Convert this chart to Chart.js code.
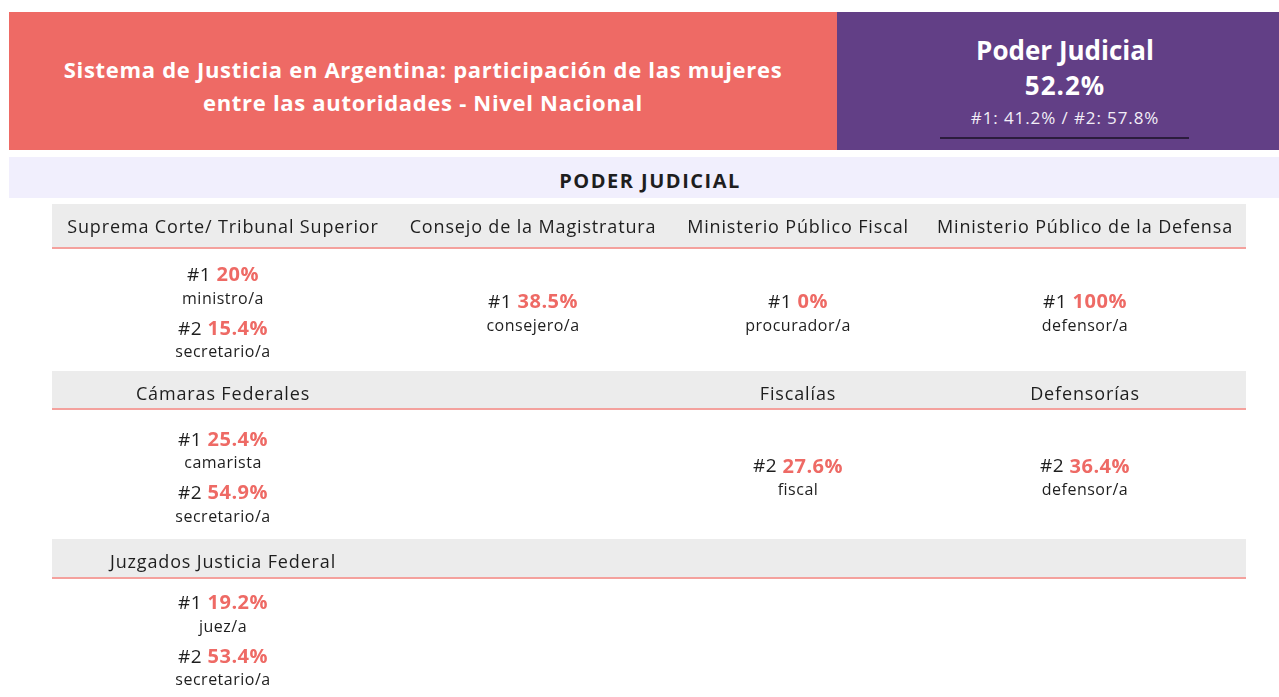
<!DOCTYPE html>
<html>
<head>
<meta charset="utf-8">
<script src="https://cdn.jsdelivr.net/npm/chart.js"></script>
<style>
  body { margin: 0; background: #fff; font-family: "Open Sans", sans-serif; width: 1279px; height: 697px; overflow: hidden; position: relative; }
  #grafico { position: absolute; left: 0; top: 0; }
  .titulo { position: absolute; left: 9px; top: 12px; width: 828px; height: 129px; padding-top: 9px; background: #ee6a65; color: #fff;
    font-weight: 700; font-size: 22px; letter-spacing: 0.7px; line-height: 33px; display: flex; align-items: center; justify-content: center; text-align: center; }
  .resumen { position: absolute; left: 837px; top: 12px; width: 456px; height: 138px; background: #623f86; color: #fff; text-align: center; }
  .resumen .nombre { position: absolute; left: 0; right: 0; top: 21px; font-size: 26px; font-weight: 700; line-height: 34px; }
  .resumen .total { position: absolute; left: 0; right: 0; top: 56px; font-size: 26px; font-weight: 700; letter-spacing: 1px; line-height: 34px; }
  .resumen .niveles { position: absolute; left: 0; right: 0; top: 94px; font-size: 17px; letter-spacing: 0.9px; line-height: 24px; color: #f2eef7; }
  .resumen .linea { position: absolute; left: 103px; width: 249px; top: 125px; height: 2px; background: #2b1c3d; }
  .seccion { position: absolute; left: 9px; top: 157px; width: 1282px; height: 35px; padding-top: 6px; background: #f1effd; color: #1e1e1e;
    font-weight: 700; font-size: 20px; letter-spacing: 1.5px; line-height: 35px; text-align: center; }
</style>
</head>
<body>
<canvas id="grafico" width="1279" height="697"></canvas>

<div class="titulo">Sistema de Justicia en Argentina: participación de las mujeres<br>entre las autoridades - Nivel Nacional</div>
<div class="resumen">
  <div class="nombre">Poder Judicial</div>
  <div class="total" id="total"></div>
  <div class="niveles" id="niveles"></div>
  <div class="linea"></div>
</div>
<div class="seccion">PODER JUDICIAL</div>

<script>
// datos
const totalJudicial = 52.2;
const totalNivel1 = 41.2;
const totalNivel2 = 57.8;

const encabezados = [
  ["Suprema Corte/ Tribunal Superior", "Consejo de la Magistratura", "Ministerio Público Fiscal", "Ministerio Público de la Defensa"],
  ["Cámaras Federales", "", "Fiscalías", "Defensorías"],
  ["Juzgados Justicia Federal", "", "", ""]
];
const nivel1 = [[20, 38.5, 0, 100], [25.4, null, null, null], [19.2, null, null, null]];
const cargos1 = [["ministro/a", "consejero/a", "procurador/a", "defensor/a"], ["camarista", "", "", ""], ["juez/a", "", "", ""]];
const nivel2 = [[15.4, null, null, null], [54.9, null, 27.6, 36.4], [53.4, null, null, null]];
const cargos2 = [["secretario/a", "", "", ""], ["secretario/a", "", "fiscal", "defensor/a"], ["secretario/a", "", "", ""]];

// layout
const anchos = [342, 278, 252, 322];
const bandaArriba = [204, 371, 539];
const bandaAbajo = [248, 409, 578];
const cuerpoAbajo = [371, 539, 697];
const coral = "#ee6a65";
const fuente = "'Open Sans', sans-serif";

document.getElementById("total").textContent = totalJudicial + "%";
document.getElementById("niveles").textContent = "#1: " + totalNivel1 + "% / #2: " + totalNivel2 + "%";

const centroCol = (c) => {
  let s = 0;
  for (let i = 0; i < c; i++) s += anchos[i];
  return s + anchos[c] / 2;
};

const puntos = [[], []];
encabezados.forEach((fila, s) => {
  fila.forEach((h, c) => {
    const items = [];
    if (nivel1[s][c] != null) items.push([0, nivel1[s][c], cargos1[s][c]]);
    if (nivel2[s][c] != null) items.push([1, nivel2[s][c], cargos2[s][c]]);
    const ancla = (bandaAbajo[s] + cuerpoAbajo[s]) / 2 - 7;
    items.forEach((it, k) => {
      puntos[it[0]].push({ x: centroCol(c), y: ancla + (k - (items.length - 1) / 2) * 53.5, v: it[1], cargo: it[2] });
    });
  });
});

const tablaPlugin = {
  id: "tabla",
  beforeDatasetsDraw(chart) {
    const { ctx, scales: { x, y } } = chart;
    ctx.save();
    encabezados.forEach((fila, s) => {
      const top = y.getPixelForValue(bandaArriba[s]);
      const bot = y.getPixelForValue(bandaAbajo[s]);
      ctx.fillStyle = "#ececec";
      ctx.fillRect(x.left, top, x.right - x.left, bot - top);
      ctx.fillStyle = "#f4a19d";
      ctx.fillRect(x.left, bot - 1, x.right - x.left, 2);
      ctx.fillStyle = "#1e1e1e";
      ctx.font = "18px " + fuente;
      ctx.letterSpacing = "0.85px";
      ctx.textAlign = "center";
      ctx.textBaseline = "middle";
      fila.forEach((h, c) => {
        if (h) ctx.fillText(h, x.getPixelForValue(centroCol(c)), top + 24);
      });
    });
    ctx.restore();
  },
  afterDatasetsDraw(chart) {
    const { ctx } = chart;
    ctx.save();
    ctx.textBaseline = "middle";
    ctx.letterSpacing = "0.5px";
    chart.data.datasets.forEach((ds, d) => {
      const meta = chart.getDatasetMeta(d);
      meta.data.forEach((el, i) => {
        const p = ds.data[i];
        const pre = "#" + (d + 1) + " ";
        const val = p.v + "%";
        ctx.font = "19px " + fuente;
        const w1 = ctx.measureText(pre).width;
        ctx.font = "bold 20px " + fuente;
        const w2 = ctx.measureText(val).width;
        const x0 = el.x - (w1 + w2) / 2;
        ctx.textAlign = "left";
        ctx.fillStyle = "#1e1e1e";
        ctx.font = "19px " + fuente;
        ctx.fillText(pre, x0, el.y);
        ctx.fillStyle = coral;
        ctx.font = "bold 20px " + fuente;
        ctx.fillText(val, x0 + w1, el.y);
        ctx.textAlign = "center";
        ctx.fillStyle = "#1e1e1e";
        ctx.font = "16px " + fuente;
        ctx.fillText(p.cargo, el.x, el.y + 23.5);
      });
    });
    ctx.restore();
  }
};

new Chart(document.getElementById("grafico"), {
  type: "scatter",
  data: {
    datasets: [
      { label: "#1", data: puntos[0], pointRadius: 0, clip: false },
      { label: "#2", data: puntos[1], pointRadius: 0, clip: false }
    ]
  },
  options: {
    responsive: false,
    animation: false,
    layout: { padding: { left: 52, right: 33, top: 204, bottom: 0 } },
    plugins: { legend: { display: false }, tooltip: { enabled: false } },
    scales: {
      x: { type: "linear", display: false, min: 0, max: 1194 },
      y: { type: "linear", display: false, min: 204, max: 697, reverse: true }
    }
  },
  plugins: [tablaPlugin]
});
</script>
</body>
</html>
